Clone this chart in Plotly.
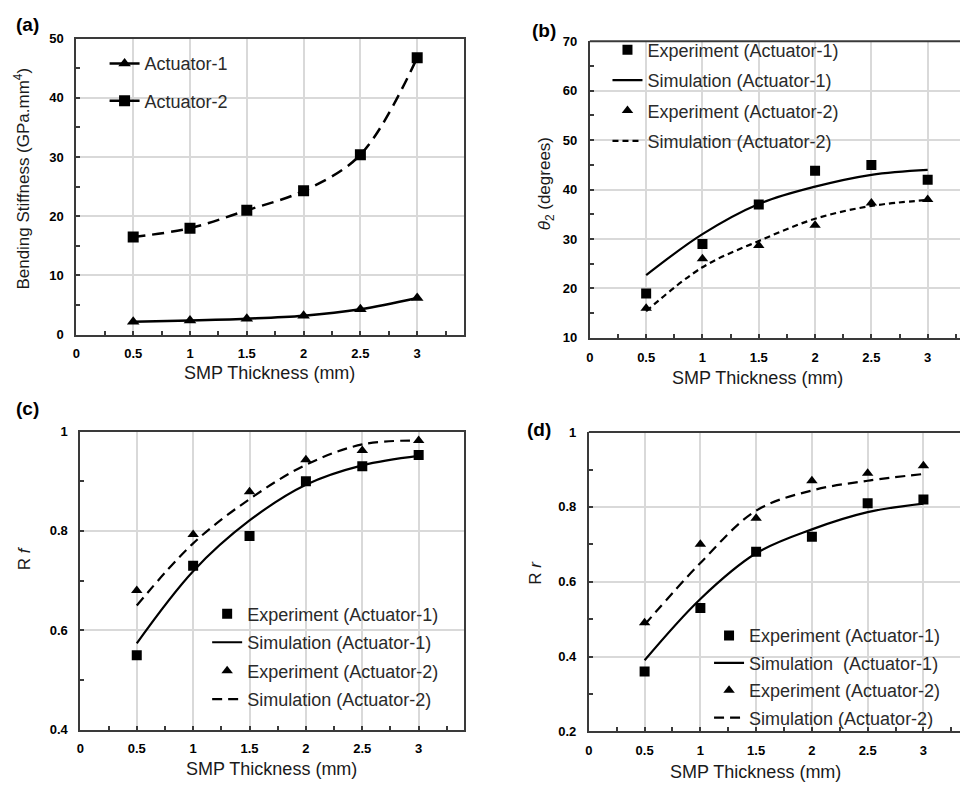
import plotly.graph_objects as go

W, H = 960, 793

thickness = [0.5, 1, 1.5, 2, 2.5, 3]

# (a) bending stiffness
stiff_act1 = [2.2, 2.4, 2.7, 3.2, 4.3, 6.2]
stiff_act2 = [16.5, 18.0, 21.0, 24.3, 30.4, 46.8]

# (b) theta2
theta_exp1 = [19, 29, 37, 43.8, 45, 42]
theta_sim1 = [22.7, 31.0, 37.1, 40.6, 43.0, 44.0]
theta_exp2 = [16, 26, 28.7, 32.8, 37.3, 38]
theta_sim2 = [15.4, 24.3, 29.6, 34.1, 36.7, 37.9]

# (c) Rf
rf_exp1 = [0.55, 0.73, 0.79, 0.90, 0.93, 0.953]
rf_sim1 = [0.574, 0.719, 0.821, 0.893, 0.932, 0.951]
rf_exp2 = [0.68, 0.793, 0.879, 0.943, 0.962, 0.982]
rf_sim2 = [0.65, 0.775, 0.864, 0.933, 0.974, 0.982]

# (d) Rr
rr_exp1 = [0.36, 0.53, 0.68, 0.72, 0.81, 0.82]
rr_sim1 = [0.39, 0.554, 0.676, 0.74, 0.786, 0.809]
rr_exp2 = [0.49, 0.70, 0.77, 0.87, 0.89, 0.91]
rr_sim2 = [0.485, 0.65, 0.79, 0.844, 0.87, 0.888]

FONT = "Liberation Sans, Arial, sans-serif"
TXT = "#1a1a1a"
GRID = "#d9d9d9"
AX = "#3a3a3a"

def px_x(p):
    return p / W

def px_y(p):
    return 1 - p / H

fig = go.Figure()

def exp_trace(x, y, sym, name, xa, ya, leg, grp):
    return go.Scatter(x=x, y=y, mode="markers", name=name, xaxis=xa, yaxis=ya,
                      marker=dict(symbol=sym, size=10, color="black"),
                      legend=leg, legendgroup=grp)

def sim_trace(x, y, dash, name, xa, ya, leg, grp):
    return go.Scatter(x=x, y=y, mode="lines", name=name, xaxis=xa, yaxis=ya,
                      line=dict(color="black", width=2.2, dash=dash, shape="spline"),
                      legend=leg, legendgroup=grp)

# (a)
fig.add_trace(go.Scatter(x=thickness, y=stiff_act1, mode="lines+markers", name="Actuator-1",
                         xaxis="x", yaxis="y", legend="legend", legendgroup="a1",
                         line=dict(color="black", width=2.5, shape="spline"),
                         marker=dict(symbol="triangle-up", size=11, color="black")))
fig.add_trace(go.Scatter(x=thickness, y=stiff_act2, mode="lines+markers", name="Actuator-2",
                         xaxis="x", yaxis="y", legend="legend", legendgroup="a2",
                         line=dict(color="black", width=2.5, dash="12px,7px", shape="spline"),
                         marker=dict(symbol="square", size=11, color="black")))

# (b)
fig.add_trace(exp_trace(thickness, theta_exp1, "square", "Experiment (Actuator-1)", "x2", "y2", "legend2", "b1"))
fig.add_trace(sim_trace(thickness, theta_sim1, "solid", "Simulation (Actuator-1)", "x2", "y2", "legend2", "b2"))
fig.add_trace(exp_trace(thickness, theta_exp2, "triangle-up", "Experiment (Actuator-2)", "x2", "y2", "legend2", "b3"))
fig.add_trace(sim_trace(thickness, theta_sim2, "6px,4px", "Simulation (Actuator-2)", "x2", "y2", "legend2", "b4"))

# (c)
fig.add_trace(exp_trace(thickness, rf_exp1, "square", "Experiment (Actuator-1)", "x3", "y3", "legend3", "c1"))
fig.add_trace(sim_trace(thickness, rf_sim1, "solid", "Simulation (Actuator-1)", "x3", "y3", "legend3", "c2"))
fig.add_trace(exp_trace(thickness, rf_exp2, "triangle-up", "Experiment (Actuator-2)", "x3", "y3", "legend3", "c3"))
fig.add_trace(sim_trace(thickness, rf_sim2, "10px,6px", "Simulation (Actuator-2)", "x3", "y3", "legend3", "c4"))

# (d)
fig.add_trace(exp_trace(thickness, rr_exp1, "square", "Experiment (Actuator-1)", "x4", "y4", "legend4", "d1"))
fig.add_trace(sim_trace(thickness, rr_sim1, "solid", "Simulation  (Actuator-1)", "x4", "y4", "legend4", "d2"))
fig.add_trace(exp_trace(thickness, rr_exp2, "triangle-up", "Experiment (Actuator-2)", "x4", "y4", "legend4", "d3"))
fig.add_trace(sim_trace(thickness, rr_sim2, "10px,6px", "Simulation (Actuator-2)", "x4", "y4", "legend4", "d4"))

tickfont = dict(family=FONT, size=13, color="black", weight="bold")

def xaxis(dom, rng, mirror, anchor):
    return dict(domain=dom, range=rng, anchor=anchor, dtick=0.5, tick0=0,
                showgrid=True, gridcolor=GRID, gridwidth=1.5,
                showline=True, linecolor=AX, linewidth=2, mirror=mirror,
                ticks="inside", ticklen=4, tickcolor=AX, tickwidth=1.5,
                minor=dict(dtick=0.25, ticks="inside", ticklen=4, tickcolor=AX, showgrid=False),
                tickfont=tickfont, ticklabelstandoff=6, zeroline=False, fixedrange=True)

def yaxis(dom, rng, dtick, mdtick, mirror, anchor):
    return dict(domain=dom, range=rng, anchor=anchor, dtick=dtick, tick0=0,
                showgrid=True, gridcolor=GRID, gridwidth=1.5,
                showline=True, linecolor=AX, linewidth=2, mirror=mirror,
                ticks="inside", ticklen=4, tickcolor=AX, tickwidth=1.5,
                minor=dict(dtick=mdtick, ticks="inside", ticklen=4, tickcolor=AX, showgrid=False),
                tickfont=tickfont, ticklabelstandoff=8, zeroline=False, fixedrange=True)

legfont = dict(family=FONT, size=18, color="#2a2a2a")

def legend(x, y, gap):
    return dict(x=x, y=y, xanchor="left", yanchor="top", bgcolor="rgba(0,0,0,0)",
                font=legfont, traceorder="grouped", tracegroupgap=gap,
                borderwidth=0, itemwidth=30)

fig.update_layout(
    width=W, height=H, margin=dict(l=0, r=0, t=0, b=0),
    paper_bgcolor="white", plot_bgcolor="white", showlegend=True,
    font=dict(family=FONT, color=TXT),
    xaxis=xaxis([px_x(72.7), px_x(461.7)], [0, 3.41], True, "y"),
    yaxis=yaxis([px_y(334), px_y(32.3)], [0, 50], 10, 5, True, "x"),
    xaxis2=xaxis([px_x(588.3), 1.0], [0, 3.287], False, "y2"),
    yaxis2=yaxis([px_y(337.3), px_y(35)], [10, 70], 10, 5, False, "x2"),
    xaxis3=xaxis([px_x(76.7), px_x(461.7)], [0, 3.4], True, "y3"),
    yaxis3=yaxis([px_y(736.7), px_y(432.7)], [0.4, 1.0], 0.2, 0.1, True, "x3"),
    xaxis4=xaxis([px_x(587.3), 1.0], [0, 3.328], False, "y4"),
    yaxis4=yaxis([px_y(738.3), px_y(433.3)], [0.2, 1.0], 0.2, 0.1, False, "x4"),
    legend=legend(px_x(101), px_y(39), 11),
    legend2=legend(px_x(606), px_y(25), 4),
    legend3=legend(px_x(204), px_y(600), 2),
    legend4=legend(px_x(708), px_y(622), 1),
)

# top borders for the cut-off panels
for xr, yr in (("x2 domain", "y2 domain"), ("x4 domain", "y4 domain")):
    fig.add_shape(type="line", xref=xr, yref=yr, x0=0, x1=1, y0=1, y1=1,
                  line=dict(color=AX, width=2), layer="above")

annots = []
lab = dict(family=FONT, size=19, color="black", weight="bold")
for t, x, y in (("(a)", 24, 18), ("(b)", 542, 24), ("(c)", 24, 409), ("(d)", 537, 431)):
    annots.append(dict(text=t, x=px_x(x), y=px_y(y), xref="paper", yref="paper",
                       showarrow=False, font=lab, xanchor="center", yanchor="middle"))

tfont = dict(family=FONT, size=18, color=TXT)
for x, y in ((267, 373), (757, 378), (269, 777), (755, 780)):
    annots.append(dict(text="SMP Thickness (mm)", x=px_x(x), y=px_y(y), xref="paper", yref="paper",
                       showarrow=False, font=tfont, xanchor="center", yanchor="middle"))

yfont = dict(family=FONT, size=17, color=TXT)
for t, x, y in (("Bending Stiffness (GPa.mm<sup>4</sup>)", 18, 175),
                ("<i>θ</i><sub>2</sub> (degrees)", 544, 180),
                ("R <i>f</i>", 20, 562),
                ("R <i>r</i>", 533, 577)):
    annots.append(dict(text=t, x=px_x(x), y=px_y(y), xref="paper", yref="paper", textangle=-90,
                       showarrow=False, font=yfont, xanchor="center", yanchor="middle"))

fig.update_layout(annotations=annots)

fig.write_html("out.html",
               config={"displayModeBar": False},
               post_script="document.body.style.margin='0';document.body.style.overflow='hidden';")
